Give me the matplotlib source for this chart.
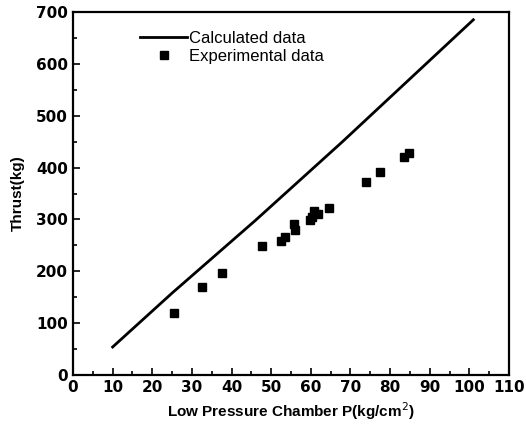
import matplotlib
matplotlib.use("Agg")
import matplotlib.pyplot as plt
from matplotlib.ticker import MultipleLocator

calc_x = [10, 25, 46, 68, 101]
calc_y = [54, 158, 298, 450, 685]

exp_x = [25.4, 32.6, 37.6, 47.7, 52.4, 53.5, 55.8, 56.0, 59.9, 60.3, 60.7, 61.8, 64.5, 73.9, 77.5, 83.6, 84.7]
exp_y = [119, 170, 197, 248, 258, 267, 292, 280, 299, 305, 316, 311, 323, 372, 391, 421, 429]

xticks = list(range(0, 111, 10))
yticks = list(range(0, 701, 100))

fig = plt.figure(figsize=(5.26, 4.30), dpi=100)
ax = fig.add_axes([73/526, 1 - 375/430, (509 - 73)/526, (375 - 12)/430])

ax.plot(calc_x, calc_y, color="black", lw=2.0, label="Calculated data")
ax.plot(exp_x, exp_y, ls="none", marker="s", ms=6, color="black", label="Experimental data")

ax.set_xlim(0, 110)
ax.set_ylim(0, 700)
ax.set_xticks(xticks)
ax.set_yticks(yticks)
ax.xaxis.set_minor_locator(MultipleLocator(5))
ax.yaxis.set_minor_locator(MultipleLocator(50))
ax.tick_params(which="both", direction="in", top=False, right=False, width=1.2)
ax.tick_params(which="major", length=5, labelsize=11)
ax.tick_params(which="minor", length=3)
for lab in ax.get_xticklabels() + ax.get_yticklabels():
    lab.set_fontweight("bold")
    lab.set_family("DejaVu Sans")
for s in ax.spines.values():
    s.set_linewidth(1.6)

ax.set_xlabel("Low Pressure Chamber P(kg/cm$^2$)", fontsize=11, fontweight="bold",
              family="Liberation Sans", labelpad=4)
ax.set_ylabel("Thrust(kg)", fontsize=11, fontweight="bold", family="Liberation Sans", labelpad=8)

leg = ax.legend(loc="upper left", bbox_to_anchor=(0.12, 0.99), frameon=False,
                prop={"family": "Liberation Sans", "size": 12}, handlelength=2.8,
                handletextpad=0.1, labelspacing=0.2)

fig.savefig("out.png", dpi=100)
